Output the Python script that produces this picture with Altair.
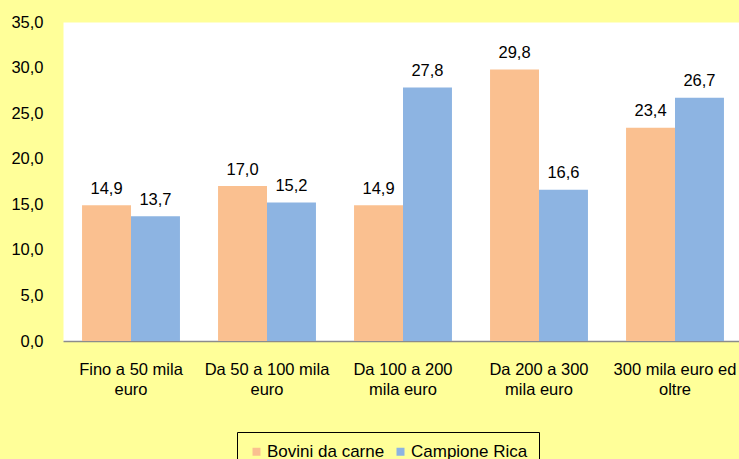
import altair as alt
import pandas as pd

# Income brackets ("|" marks the line break in the axis label)
categories = [
    "Fino a 50 mila|euro",
    "Da 50 a 100 mila|euro",
    "Da 100 a 200|mila euro",
    "Da 200 a 300|mila euro",
    "300 mila euro ed|oltre",
]
series = ["Bovini da carne", "Campione Rica"]
bovini = [14.9, 17.0, 14.9, 29.8, 23.4]
campione = [13.7, 15.2, 27.8, 16.6, 26.7]
y_ticks = [0, 5, 10, 15, 20, 25, 30, 35]
colors = ["#FAC090", "#8DB4E2"]

rows = []
for cat, b, c in zip(categories, bovini, campione):
    rows.append({"fascia": cat, "serie": series[0], "valore": b})
    rows.append({"fascia": cat, "serie": series[1], "valore": c})
df = pd.DataFrame(rows)

FONT = "Liberation Sans"
FS = 16.5

x = alt.X(
    "fascia:N",
    sort=categories,
    title=None,
    scale=alt.Scale(paddingInner=0.28, paddingOuter=0.14, range=[0, 680]),
    axis=alt.Axis(
        labelAngle=0,
        labelExpr="split(datum.label, '|')",
        ticks=False,
        domainColor="#8c8c8c",
        domainWidth=1.5,
        labelPadding=20,
        labelFont=FONT,
        labelFontSize=FS,
        labelColor="black",
        labelLineHeight=20,
        labelLimit=0,
        labelOverlap=False,
    ),
)
y = alt.Y(
    "valore:Q",
    title=None,
    scale=alt.Scale(domain=[0, 35], nice=False),
    axis=alt.Axis(
        values=y_ticks,
        labelExpr="replace(format(datum.value, '.1f'), '.', ',')",
        domain=False,
        ticks=False,
        grid=False,
        labelPadding=20,
        labelFont=FONT,
        labelFontSize=FS,
        labelColor="black",
    ),
)
xoff = alt.XOffset("serie:N", sort=series, scale=alt.Scale(paddingInner=0, paddingOuter=0))

bars = alt.Chart(df).mark_bar().encode(
    x=x,
    y=y,
    xOffset=xoff,
    color=alt.Color(
        "serie:N",
        sort=series,
        scale=alt.Scale(domain=series, range=colors),
        legend=alt.Legend(
            title=None,
            orient="none",
            legendX=174,
            legendY=410,
            direction="horizontal",
            strokeColor="black",
            padding=11,
            symbolType="square",
            symbolSize=64,
            symbolStrokeWidth=0,
            symbolOpacity=1,
            labelFont=FONT,
            labelFontSize=17,
            labelColor="black",
            labelOffset=2,
            columnPadding=7,
        ),
    ),
)

labels = alt.Chart(df).transform_calculate(
    etichetta="replace(format(datum.valore, '.1f'), '.', ',')"
).mark_text(
    baseline="alphabetic", dy=-11.5, font=FONT, fontSize=FS, color="black"
).encode(
    x=x,
    y=y,
    xOffset=xoff,
    text="etichetta:N",
)

chart = alt.layer(bars, labels).properties(
    width=676,
    height=319,
    autosize=alt.AutoSizeParams(type="none"),
    padding={"left": 63, "top": 22, "right": 0, "bottom": 118},
    background="#FFFF99",
).configure_view(fill="white", stroke="transparent")

chart.save("out.html", embed_options={"renderer": "svg", "actions": False})
